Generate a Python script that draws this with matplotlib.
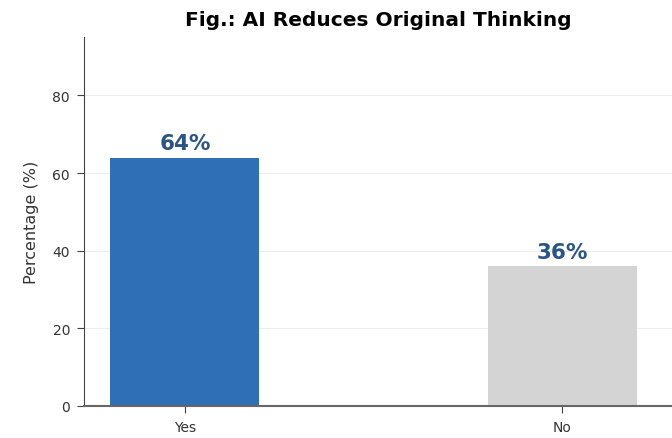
import matplotlib
matplotlib.use("Agg")
import matplotlib.pyplot as plt

categories = ["Yes", "No"]
values = [64, 36]
labels = ["64%", "36%"]
bar_colors = ["#2e6fb5", "#d4d4d4"]

fig = plt.figure(figsize=(6.72, 4.39), dpi=100)
ax = fig.add_axes([0.125, 0.073, 0.875, 0.84])

x = list(range(len(categories)))
ax.bar(x, values, width=0.395, color=bar_colors, zorder=2)

for xi, v, lab in zip(x, values, labels):
    ax.text(xi, v + 1.2, lab, ha="center", va="bottom", fontsize=15.5,
            fontweight="bold", color="#2a5585")

ax.set_xticks(x)
ax.set_xticklabels(categories, fontsize=10, color="#333333")
ax.set_xlim(-0.267, 1.29)
ax.set_ylim(0, 95)
ax.set_yticks([0, 20, 40, 60, 80])
ax.tick_params(axis="both", labelsize=10, labelcolor="#333333",
               length=5, pad=5, color="#444444")
ax.set_ylabel("Percentage (%)", fontsize=11.5, color="#333333", labelpad=10)
ax.set_title("Fig.: AI Reduces Original Thinking", fontsize=14.5,
             fontweight="bold", pad=9)

ax.yaxis.grid(True, color="#eeeeee", linewidth=0.8, zorder=0)
ax.set_axisbelow(True)
ax.spines["top"].set_visible(False)
ax.spines["right"].set_visible(False)
ax.spines["left"].set_color("#444444")
ax.spines["bottom"].set_color("#666666")
ax.spines["bottom"].set_linewidth(1.5)

fig.savefig("out.png", dpi=100)
